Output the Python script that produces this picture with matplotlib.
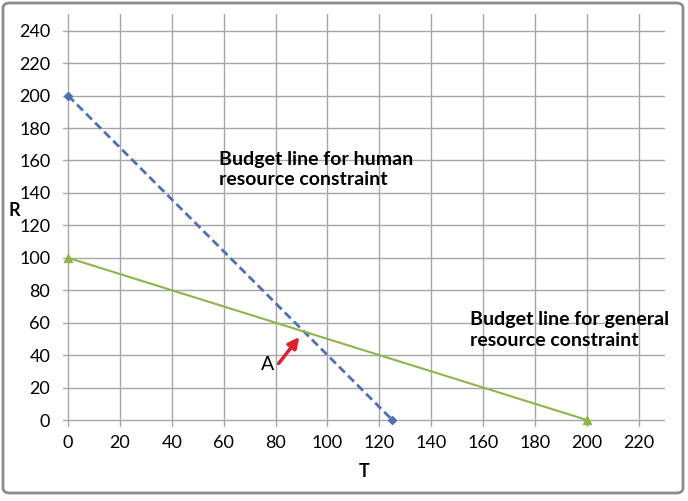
import matplotlib
matplotlib.use("Agg")
import matplotlib.pyplot as plt
from matplotlib.patches import FancyBboxPatch

plt.rcParams["font.family"] = ["Lato", "DejaVu Sans"]

# data
human_T = [0, 125]
human_R = [200, 0]
general_T = [0, 200]
general_R = [100, 0]
x_ticks = list(range(0, 221, 20))
y_ticks = list(range(0, 241, 20))

fig = plt.figure(figsize=(6.88, 5.01), dpi=100)
ax = fig.add_axes([0.0913, 0.1487, 0.875, 0.824])

ax.plot(human_T, human_R, color="#4F6FB5", lw=2, ls=(0, (3, 1.6)),
        marker="D", ms=4.5, zorder=3)
ax.plot(general_T, general_R, color="#8DB547", lw=1.5,
        marker="^", ms=6, zorder=3)

ax.set_xlim(-2, 230)
ax.set_ylim(-4, 250.5)
ax.set_xticks(x_ticks)
ax.set_yticks(y_ticks)
ax.tick_params(length=0, labelsize=13)
ax.tick_params(axis="y", pad=9)
ax.tick_params(axis="x", pad=6)
ax.grid(True, color="#A6A6A6", lw=1)
ax.set_axisbelow(True)
for s in ax.spines.values():
    s.set_visible(False)

ax.set_xlabel("T", fontsize=13, fontweight="bold", labelpad=9)
fig.text(9 / 688, 1 - 211 / 501, "R", fontsize=13, fontweight="bold",
         ha="left", va="center")

ax.text(58, 166, "Budget line for human\nresource constraint", fontsize=14,
        fontweight="bold", va="top", ha="left", linespacing=1.25)
ax.text(155, 67, "Budget line for general\nresource constraint", fontsize=14,
        fontweight="bold", va="top", ha="left", linespacing=1.25)

ax.annotate("", xy=(89.8, 52.5), xytext=(80.5, 33.5),
            arrowprops=dict(arrowstyle="-|>", color="#E0202F", lw=2.5,
                            mutation_scale=16))
ax.text(79.5, 34, "A", fontsize=14, ha="right", va="center")

border = FancyBboxPatch((3 / 688, 8 / 501), 680 / 688, 490 / 501,
                        boxstyle="round,pad=0,rounding_size=0.01",
                        transform=fig.transFigure, fill=False,
                        ec="#8C8C8C", lw=2)
fig.patches.append(border)

fig.savefig("out.png", dpi=100)
